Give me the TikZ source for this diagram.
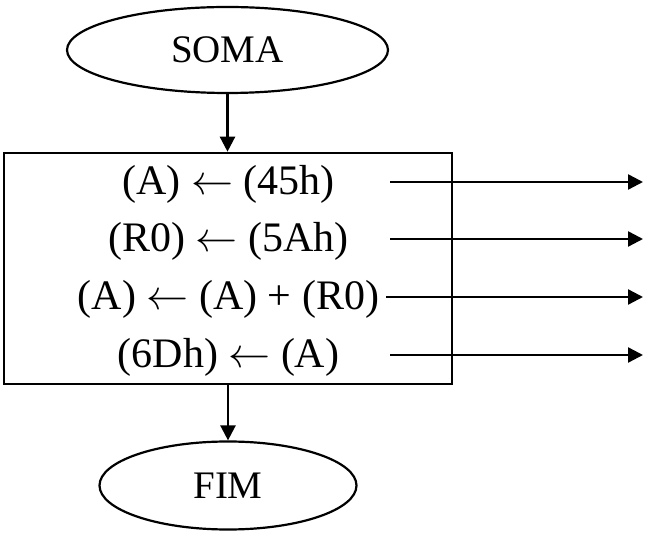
\RequirePackage{fix-cm}
\documentclass[tikz,border=0pt]{standalone}
\usepackage{fontspec}
\setmainfont{Liberation Serif}
\usetikzlibrary{shapes.geometric,arrows.meta}
\begin{document}
\begin{tikzpicture}[x=1pt,y=1pt,
  line/.style={line width=2.4pt},
  conn/.style={line, -{Triangle[length=15pt,width=15pt]}},
  term/.style={draw, line width=2.2pt, ellipse, inner sep=0pt, font=\fontsize{39}{41}\selectfont},
  blockbox/.style={draw, line width=2.6pt, rectangle, inner sep=0pt},
  stmt/.style={inner sep=0pt, font=\fontsize{42}{44}\selectfont}]
\useasboundingbox (0,0) rectangle (654,-534);
\newcommand{\la}{\ensuremath{\leftarrow}}
\node[term, minimum width=321pt, minimum height=86pt] (soma) at (227.5,-50) {SOMA};
\node[blockbox, minimum width=448pt, minimum height=231pt] (box) at (228,-268.5) {};
\node[term, minimum width=257pt, minimum height=88pt] (fim) at (228,-485.5) {FIM};
\node[stmt] (l1) at (228.5,-184) {(A) \la{} (45h)};
\node[stmt] (l2) at (228.5,-241) {(R0) \la{} (5Ah)};
\node[stmt] (l3) at (228.5,-299) {(A) \la{} (A) + (R0)};
\node[stmt] (l4) at (228.5,-357) {(6Dh) \la{} (A)};
\coordinate (s1) at (390,-182); \coordinate (e1) at (643,-182);
\coordinate (s2) at (390,-239); \coordinate (e2) at (643,-239);
\coordinate (s3) at (386,-297); \coordinate (e3) at (643,-297);
\coordinate (s4) at (390,-355); \coordinate (e4) at (643,-355);
\draw[conn] (soma.south) -- (box.north -| soma.south);
\draw[conn] (box.south -| fim.north) -- (fim.north);
\draw[conn] (s1) -- (e1);
\draw[conn] (s2) -- (e2);
\draw[conn] (s3) -- (e3);
\draw[conn] (s4) -- (e4);
\end{tikzpicture}
\end{document}
